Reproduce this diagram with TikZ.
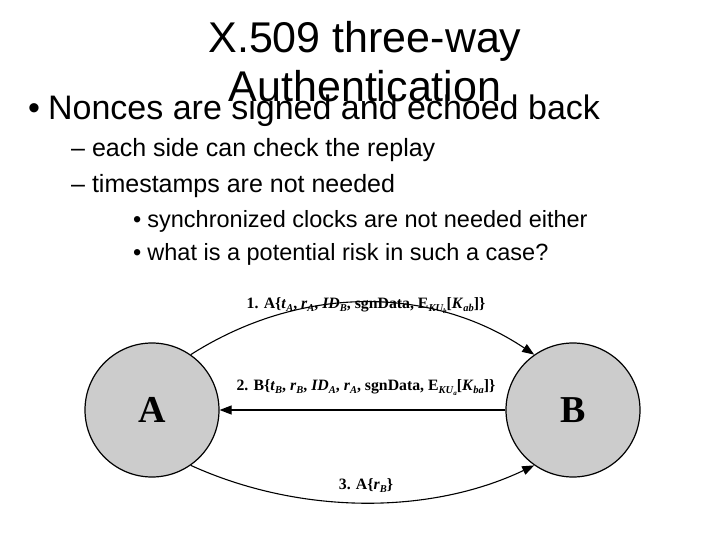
\documentclass[tikz,border=0pt]{standalone}
\usepackage{fontspec}
\setmainfont{Liberation Sans}
\newfontfamily\tms{Liberation Serif}
\usetikzlibrary{arrows.meta}
\newcommand{\bi}[1]{\textit{#1}}
\newcommand{\mysub}[1]{\raisebox{-3pt}{\fontsize{10.5}{10.5}\selectfont\itshape #1}}
\newcommand{\mysubsub}[1]{\raisebox{-2pt}{\fontsize{7}{7}\selectfont\itshape #1}}
\begin{document}
\begin{tikzpicture}[x=1pt,y=1pt,
  party/.style={circle,draw,line width=1.2pt,fill=black!20,minimum size=134pt,font=\tms\fontsize{38}{38}\selectfont\bfseries},
  msg/.style={line width=1.1pt,-{Triangle[length=12pt,width=9pt]}},
  lab/.style={font=\tms\fontsize{15.8}{15.8}\selectfont\bfseries},
  txt/.style={anchor=west,inner sep=0pt}]
\useasboundingbox (0,0) rectangle (720,-540);
\node[align=center,font=\fontsize{43}{49}\selectfont] (title) at (365,-62) {X.509 three-way\\Authentication};
\node[txt,font=\fontsize{34}{34}\selectfont] (b1) at (28,-111) {•\hspace{8pt}Nonces are signed and echoed back};
\node[txt,font=\fontsize{25}{25}\selectfont] (b2) at (71,-150) {– each side can check the replay};
\node[txt,font=\fontsize{25}{25}\selectfont] (b3) at (71,-186) {– timestamps are not needed};
\node[txt,font=\fontsize{23.5}{23.5}\selectfont] (b4) at (133,-221) {•\hspace{6pt}synchronized clocks are not needed either};
\node[txt,font=\fontsize{23.5}{23.5}\selectfont] (b5) at (133,-254) {•\hspace{6pt}what is a potential risk in such a case?};
\node[party] (A) at (152,-410) {A};
\node[party] (B) at (573,-410) {B};
\draw[msg] (A.55) .. controls (300,-285) and (430,-285) .. (B.125);
\draw[msg] (B.west) -- (A.east);
\draw[msg] (A.-55) .. controls (300,-515) and (430,-515) .. (B.-125);
\node[lab] (l1) at (366,-306) {1. A\{\bi{t}\mysub{A}, \bi{r}\mysub{A}, \bi{ID}\mysub{B}, sgnData, E\mysub{KU\mysubsub{b}}[\bi{K}\mysub{ab}]\}};
\node[lab] (l2) at (366,-388) {2. B\{\bi{t}\mysub{B}, \bi{r}\mysub{B}, \bi{ID}\mysub{A}, \bi{r}\mysub{A}, sgnData, E\mysub{KU\mysubsub{a}}[\bi{K}\mysub{ba}]\}};
\node[lab] (l3) at (366,-486) {3. A\{\bi{r}\mysub{B}\}};
\end{tikzpicture}
\end{document}
